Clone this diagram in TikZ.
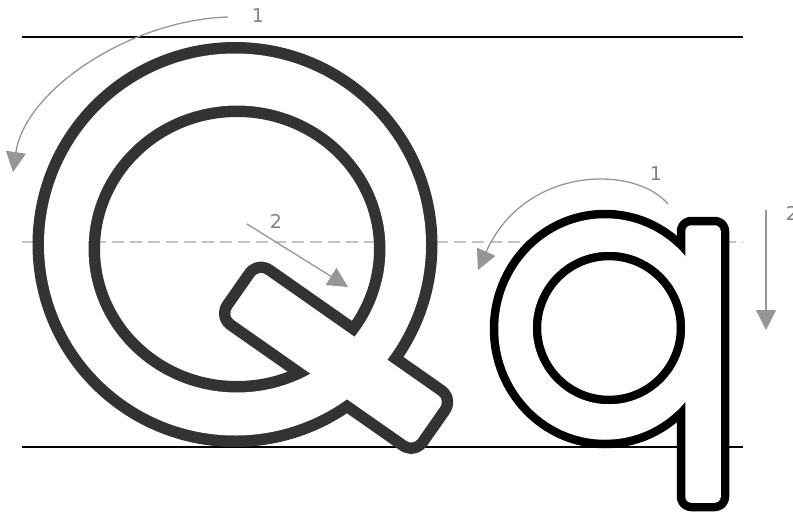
\documentclass[tikz,border=0pt]{standalone}
\usepackage{fontspec}
\newfontfamily\numfont{DejaVu Sans}
\usetikzlibrary{arrows.meta}
\definecolor{inkQ}{RGB}{51,51,51}
\definecolor{arrowgray}{RGB}{150,150,150}
\definecolor{numgray}{RGB}{130,130,130}
\definecolor{dashgray}{RGB}{195,195,195}

\begin{document}
\begin{tikzpicture}[
		x=1pt,y=-1pt,
		guide/.style={line width=1.8pt,black},
		midguide/.style={line width=1.5pt,dashgray,dash pattern=on 12pt off 6pt},
		outlineQ/.style={line width=23pt,inkQ,line join=round},
		outlineq/.style={line width=17pt,black,line join=round},
		strokearrow/.style={
			draw=arrowgray,
			line width=1.3pt,
			-{Triangle[length=20pt,width=20pt]}
		},
		num/.style={
			text=numgray,
			font=\numfont\fontsize{19}{19}\selectfont,
			inner sep=0pt
		}
		]
		
		\useasboundingbox (0,0) rectangle (793,515);
		
		\coordinate (topL) at (22,37);
		\coordinate (topR) at (743,37);
		\coordinate (midL) at (22,242);
		\coordinate (midR) at (743,242);
		\coordinate (baseL) at (22,447);
		\coordinate (baseR) at (743,447);
		
		\draw[midguide] (midL)--(midR);
		\draw[guide] (topL)--(topR);
		\draw[guide] (baseL)--(baseR);
		
		% capital Q
		\draw[outlineQ] (235,244.5) circle[radius=191];
		\draw[outlineQ] (237,249) ellipse[x radius=148.5,y radius=143.5];
		\draw[outlineQ,rotate=-35,rounded corners=8pt] (367,72.5) rectangle (594,128);
		\fill[white,even odd rule] (235,244.5) circle[radius=191]
		(237,249) ellipse[x radius=148.5,y radius=143.5];
		\fill[white,rotate=-35,rounded corners=8pt] (367,72.5) rectangle (594,128);
		
		% small q
		\draw[outlineq] (605,329) ellipse[x radius=106.75,y radius=110.75];
		\draw[outlineq] (609,328) circle[radius=76.25];
		\draw[outlineq,rounded corners=6pt] (685.25,225.25) rectangle (720.75,502.75);
		\fill[white,even odd rule] (605,329) ellipse[x radius=106.75,y radius=110.75]
		(609,328) circle[radius=76.25];
		\fill[white,rounded corners=6pt] (685.25,225.25) rectangle (720.75,502.75);
		
		% stroke order
		\node[num] (nQa) at (258,16) {1};
		\node[num] (nQb) at (276,221) {2};
		\node[num] (nqa) at (656,174) {1};
		\node[num] (nqb) at (792,213) {2};
		
		\coordinate (Qa1) at (228,17);
		\coordinate (Qa2) at (13,172);
		\coordinate (Qb1) at (247,224);
		\coordinate (Qb2) at (348,287);
		\coordinate (qa1) at (668,204);
		\coordinate (qa2) at (478,270);
		\coordinate (qb1) at (766,210);
		\coordinate (qb2) at (766,330);
		
		\draw[strokearrow] (Qa1) .. controls (130,20) and (25,90) .. (Qa2);
		\draw[strokearrow] (Qb1)--(Qb2);
		\draw[strokearrow] (qa1) .. controls (635,165) and (525,165) .. (qa2);
		\draw[strokearrow] (qb1)--(qb2);
		
	\end{tikzpicture}
\end{document}
